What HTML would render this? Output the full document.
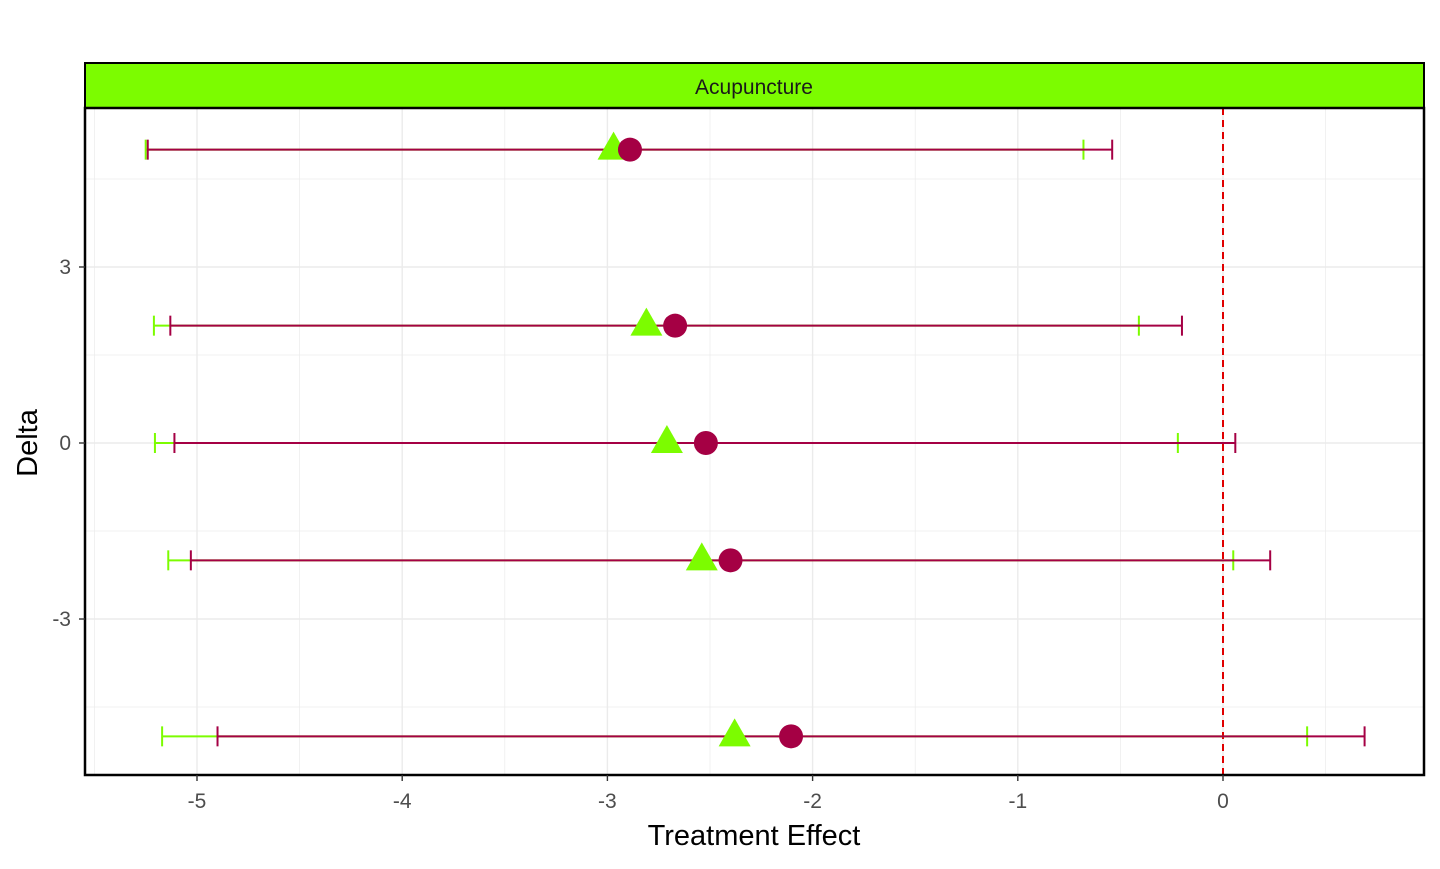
<!DOCTYPE html>
<html><head><meta charset="utf-8"><style>
body{margin:0;background:#fff;font-family:"Liberation Sans",sans-serif}
</style></head><body>
<svg width="1440" height="864" xmlns="http://www.w3.org/2000/svg">
<g id="grid"></g>
<rect x="85" y="63" width="1339" height="45" fill="#7CFC00" stroke="#000" stroke-width="2"/>
<text x="754" y="94" text-anchor="middle" font-size="21" fill="#1a1a1a">Acupuncture</text>
<g id="marks"></g>
<rect x="85" y="108" width="1339" height="667" fill="none" stroke="#000" stroke-width="2.5"/>
<g id="axes"></g>
<text x="754" y="845" text-anchor="middle" font-size="29" fill="#000">Treatment Effect</text>
<text transform="translate(37,443) rotate(-90)" text-anchor="middle" font-size="29" fill="#000">Delta</text>
</svg>
<script>
const deltas=[5,2,0,-2,-5];
const estA=[-2.89,-2.67,-2.52,-2.40,-2.105];
const loA=[-5.24,-5.13,-5.11,-5.03,-4.90];
const hiA=[-0.54,-0.20,0.06,0.23,0.69];
const estB=[-2.97,-2.81,-2.71,-2.54,-2.38];
const loB=[-5.25,-5.21,-5.205,-5.14,-5.17];
const hiB=[-0.68,-0.41,-0.22,0.05,0.41];
const xTicks=[-5,-4,-3,-2,-1,0];
const yTicks=[-3,0,3];
const X=v=>1223+v*205.2, Y=v=>443-v*58.67;
const NS="http://www.w3.org/2000/svg";
function mk(p,t,a){const e=document.createElementNS(NS,t);for(const k in a)e.setAttribute(k,a[k]);p.appendChild(e);return e;}
const g=document.getElementById('grid'),m=document.getElementById('marks'),ax=document.getElementById('axes');
for(let v=-5.5;v<=0.6;v+=0.5){const l=mk(g,'line',{x1:X(v),x2:X(v),y1:108,y2:775,stroke:'#ebebeb','stroke-width':Number.isInteger(v)?1.4:0.7});

}
for(let v=-4.5;v<=4.5;v+=1.5){const l=mk(g,'line',{x1:85,x2:1424,y1:Y(v),y2:Y(v),stroke:'#ebebeb','stroke-width':Number.isInteger(v)?1.4:0.7});

}
const zl=mk(m,'line',{x1:X(0),x2:X(0),y1:108,y2:775,stroke:'#e00000','stroke-width':2,'stroke-dasharray':'7,5'});


function bar(lo,hi,y,c,name){const gg=mk(m,'g',{stroke:c,'stroke-width':2});


mk(gg,'line',{x1:X(lo),x2:X(hi),y1:y,y2:y});mk(gg,'line',{x1:X(lo),x2:X(lo),y1:y-10,y2:y+10});mk(gg,'line',{x1:X(hi),x2:X(hi),y1:y-10,y2:y+10});}
deltas.forEach((d,i)=>{const y=Y(d);
bar(loB[i],hiB[i],y,'#7CFC00','error-bar-green');
bar(loA[i],hiA[i],y,'#A50044','error-bar-purple');
const x=X(estB[i]);const t=mk(m,'polygon',{points:`${x},${y-18} ${x-16},${y+10} ${x+16},${y+10}`,fill:'#7CFC00'});


const c=mk(m,'circle',{cx:X(estA[i]),cy:y,r:12,fill:'#A50044'});

});
xTicks.forEach(v=>{mk(ax,'line',{x1:X(v),x2:X(v),y1:775,y2:781,stroke:'#333','stroke-width':1.4});
const t=mk(ax,'text',{x:X(v),y:808,'text-anchor':'middle','font-size':21,fill:'#4d4d4d'});t.textContent=v;

});
yTicks.forEach(v=>{mk(ax,'line',{x1:79,x2:85,y1:Y(v),y2:Y(v),stroke:'#333','stroke-width':1.4});
const t=mk(ax,'text',{x:71,y:Y(v)+7,'text-anchor':'end','font-size':21,fill:'#4d4d4d'});t.textContent=v;

});
</script>
</body></html>
